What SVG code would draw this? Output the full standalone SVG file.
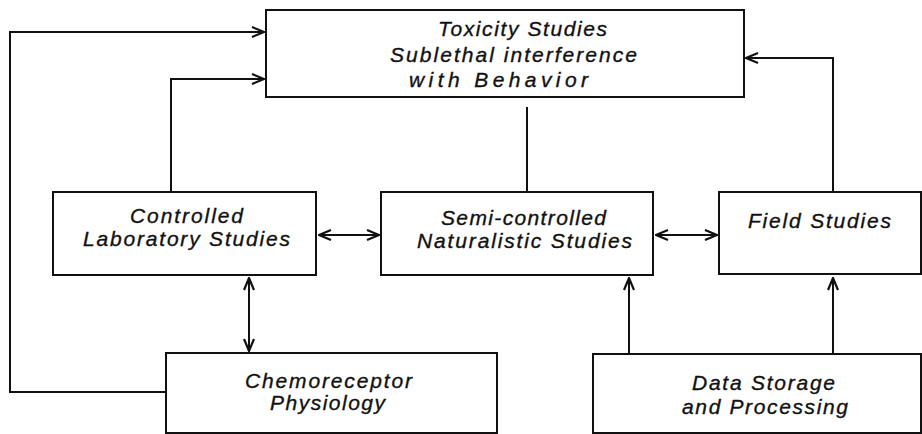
<svg xmlns="http://www.w3.org/2000/svg" width="922" height="434" viewBox="0 0 922 434">
<defs>
<style>
.box{fill:#fff;stroke:#111;stroke-width:2}
.ln{fill:none;stroke:#111;stroke-width:2}
text{font-family:"Liberation Sans",Arial,sans-serif;font-style:italic;font-size:21px;fill:#111;stroke:#111;stroke-width:0.35}
</style>
<marker id="ah" viewBox="0 0 14 12" refX="13" refY="6" markerWidth="14" markerHeight="12" markerUnits="userSpaceOnUse" orient="auto-start-reverse">
<path d="M1,1 L13,6 L1,11" fill="none" stroke="#111" stroke-width="2.2"/>
</marker>
</defs>
<rect width="922" height="434" fill="#fff"/>
<g id="connectors">
<polyline class="ln" points="166,392 10,392 10,32 264,32" marker-end="url(#ah)"/>
<polyline class="ln" points="171,192 171,79 264,79" marker-end="url(#ah)"/>
<polyline class="ln" points="833,192 833,58 746,58" marker-end="url(#ah)"/>
<line class="ln" x1="527" y1="107" x2="527" y2="192"/>
<line class="ln" x1="319" y1="235" x2="379" y2="235" marker-start="url(#ah)" marker-end="url(#ah)"/>
<line class="ln" x1="656" y1="235" x2="717" y2="235" marker-start="url(#ah)" marker-end="url(#ah)"/>
<line class="ln" x1="249" y1="278" x2="249" y2="351" marker-start="url(#ah)" marker-end="url(#ah)"/>
<line class="ln" x1="629" y1="354" x2="629" y2="278" marker-end="url(#ah)"/>
<line class="ln" x1="833" y1="354" x2="833" y2="278" marker-end="url(#ah)"/>
</g>
<g id="toxicity">
<rect class="box" x="266" y="10" width="478" height="87"/>
<text x="438" y="36" textLength="169" lengthAdjust="spacing">Toxicity Studies</text>
<text x="390" y="62" textLength="247" lengthAdjust="spacing">Sublethal interference</text>
<text x="409" y="87" textLength="179" lengthAdjust="spacing">with Behavior</text>
</g>
<g id="controlled">
<rect class="box" x="53" y="192" width="263" height="83"/>
<text x="130" y="223" textLength="113" lengthAdjust="spacing">Controlled</text>
<text x="83" y="246" textLength="207" lengthAdjust="spacing">Laboratory Studies</text>
</g>
<g id="semi">
<rect class="box" x="381" y="192" width="272" height="83"/>
<text x="441" y="225" textLength="165" lengthAdjust="spacing">Semi-controlled</text>
<text x="417" y="248" textLength="215" lengthAdjust="spacing">Naturalistic Studies</text>
</g>
<g id="field">
<rect class="box" x="719" y="192" width="202" height="82"/>
<text x="748" y="228" textLength="143" lengthAdjust="spacing">Field Studies</text>
</g>
<g id="chemo">
<rect class="box" x="166" y="353" width="331" height="80"/>
<text x="245" y="388" textLength="167" lengthAdjust="spacing">Chemoreceptor</text>
<text x="270" y="410" textLength="115" lengthAdjust="spacing">Physiology</text>
</g>
<g id="data">
<rect class="box" x="593" y="354" width="328" height="79"/>
<text x="692" y="390" textLength="143" lengthAdjust="spacing">Data Storage</text>
<text x="682" y="414" textLength="166" lengthAdjust="spacing">and Processing</text>
</g>
</svg>
